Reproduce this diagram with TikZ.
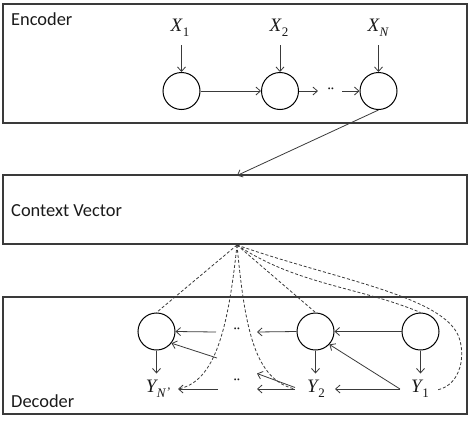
\documentclass[tikz,border=0pt]{standalone}
\usepackage{fontspec}
\setmainfont{Carlito}
\newfontfamily\varfont{Liberation Serif}
\usetikzlibrary{arrows.meta}
\definecolor{lc}{HTML}{3A3A3A}
\definecolor{tc}{HTML}{1A1A1A}
\newcommand\lbl[2]{{\varfont\itshape #1}\kern0.5pt\raisebox{-0.28em}{\fontsize{13}{14}\selectfont\varfont #2}}
\begin{document}
\begin{tikzpicture}[x=1pt,y=-1pt, font=\fontsize{18.4}{21}\selectfont, text=tc,
  box/.style={draw=lc, line width=1.4pt, minimum width=464pt, inner sep=0pt},
  cell/.style={circle, draw=black, line width=1pt, minimum size=37pt, inner sep=0pt},
  arr/.style={draw=lc, line width=0.8pt, -{Straight Barb[length=4.5pt,width=8pt]}},
  dsh/.style={draw=lc, line width=0.8pt, dash pattern=on 3pt off 2pt},
  lab/.style={inner sep=0pt, anchor=base, font=\fontsize{19}{21}\selectfont},
  title/.style={inner sep=0pt, anchor=west},
  dots/.style={inner sep=0pt, font=\fontsize{13}{14}\selectfont}]
\useasboundingbox (0,0) rectangle (474,421);
% boxes
\node[box, minimum height=119pt] (enc) at (235,63.5) {};
\node[box, minimum height=69pt] (ctx) at (235,209.5) {};
\node[box, minimum height=117pt] (dec) at (235,355.5) {};
\node[title] (tenc) at (11,19) {Encoder};
\node[title] (tctx) at (11,211) {Context Vector};
\node[title] (tdec) at (11,401) {Decoder};
% encoder
\node[cell] (e1) at (181.5,91) {};
\node[cell] (e2) at (280,91) {};
\node[cell] (e3) at (378.5,91) {};
\node[lab] (x1) at (180,31) {\lbl{X}{1}};
\node[lab] (x2) at (279,31) {\lbl{X}{2}};
\node[lab] (xn) at (378,31) {\lbl{X}{\itshape N}};
\coordinate (xa1) at (181.5,45);
\coordinate (xa2) at (280,45);
\coordinate (xa3) at (378.5,45);
\draw[arr] (xa1) -- (e1.north);
\draw[arr] (xa2) -- (e2.north);
\draw[arr] (xa3) -- (e3.north);
\draw[arr] (e1.east) -- (e2.west);
\coordinate (ed1) at (318,91);
\coordinate (ed2) at (342,91);
\node[dots] (edots) at (331,90) {··};
\draw[arr] (e2.east) -- (ed1);
\draw[arr] (ed2) -- (e3.west);
\coordinate (ctop) at (237,175.5);
\draw[arr] (e3.south) -- (ctop);
% decoder
\coordinate (cbot) at (237,245);
\node[cell] (d1) at (156.5,331.5) {};
\node[cell] (d2) at (315.5,331.5) {};
\node[cell] (d3) at (420.5,331.5) {};
\node[lab] (yn) at (158,392) {\lbl{Y}{\itshape N\kern0.3pt\raisebox{0.05em}{’}}};
\node[lab] (y2) at (316,392) {\lbl{Y}{2}};
\node[lab] (y1) at (420,392) {\lbl{Y}{1}};
\coordinate (yna) at (156.5,373.5);
\coordinate (y2a) at (315.5,373.5);
\coordinate (y1a) at (420.5,373.5);
\draw[arr] (d1.south) -- (yna);
\draw[arr] (d2.south) -- (y2a);
\draw[arr] (d3.south) -- (y1a);
\draw[arr] (d3.west) -- (d2.east);
\coordinate (dd1) at (257,332);
\coordinate (dd2) at (216,332);
\node[dots] (ddots) at (237,330) {··};
\draw[arr] (d2.west) -- (dd1);
\draw[arr] (dd2) -- (d1.east);
\coordinate (dg1) at (217,358);
\draw[arr] (dg1) -- (d1.-38);
\coordinate (y1w) at (400,389);
\coordinate (y2e) at (335,389);
\draw[arr] (y1w) -- (y2e);
\draw[arr] (y1w) -- (d2.-43);
\coordinate (y2w) at (295,389);
\coordinate (y2w2) at (295,387.5);
\coordinate (ld1) at (257,389);
\coordinate (ld2) at (257,373.5);
\node[dots] (ldots) at (237,381) {··};
\draw[arr] (y2w) -- (ld1);
\draw[arr] (y2w2) -- (ld2);
\coordinate (ynr) at (218,389);
\coordinate (ynt) at (178,389);
\draw[arr] (ynr) -- (ynt);
% attention (dashed)
\draw[dsh] (cbot) -- (d1.north);
\draw[dsh] (cbot) -- (d2.north);
\draw[dsh] (cbot) .. controls (297,285) and (360,287) .. (d3.north);
\coordinate (bend) at (458,335);
\coordinate (y1e) at (437,390);
\draw[dsh] (cbot) .. controls (330,278) and (440,295) .. (bend)
  .. controls (466,353) and (462,385) .. (y1e);
\draw[dsh] (cbot) .. controls (228,330) and (215,382) .. (ynt);
\draw[dsh] (cbot) .. controls (245,330) and (255,380) .. (y2w);
\end{tikzpicture}
\end{document}
